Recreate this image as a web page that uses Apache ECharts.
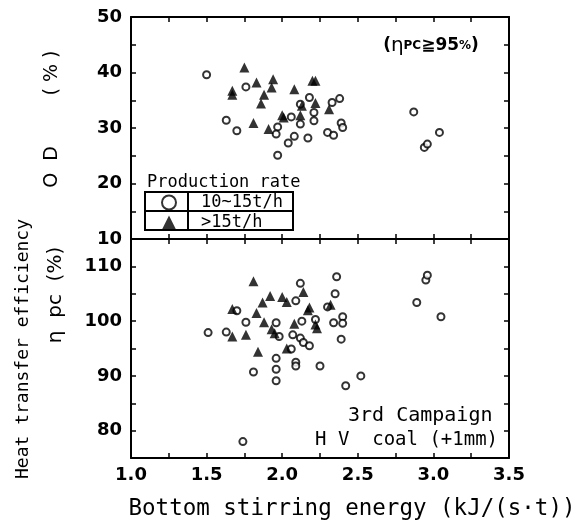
<!DOCTYPE html>
<html>
<head>
<meta charset="utf-8">
<script src="https://cdn.jsdelivr.net/npm/echarts@6/dist/echarts.min.js"></script>
<style>
	html, body { margin: 0; padding: 0; background: #fff; }
	#chart { width: 581px; height: 527px; }
</style>
</head>
<body>
<div id="chart"></div>
<script>
// OD (%) vs bottom stirring energy, 10~15 t/h
const odCircles = [
	[1.50, 39.6], [1.63, 31.4], [1.70, 29.5], [1.76, 37.4], [1.97, 30.2],
	[1.96, 28.9], [1.97, 25.1], [2.06, 32.0], [2.08, 28.5], [2.04, 27.3],
	[2.12, 30.7], [2.12, 34.3], [2.18, 35.5], [2.21, 32.8], [2.21, 31.3],
	[2.17, 28.2], [2.30, 29.2], [2.34, 28.7], [2.33, 34.6], [2.38, 35.3],
	[2.39, 30.9], [2.40, 30.1], [2.87, 32.9], [2.94, 26.5], [2.96, 27.1],
	[3.04, 29.2]
]
// OD (%), > 15 t/h
const odTriangles = [
	[1.75, 40.9], [1.83, 38.2], [1.67, 36.7], [1.67, 36.0], [1.94, 38.8],
	[1.93, 37.3], [1.88, 36.0], [1.86, 34.4], [2.08, 37.0], [1.81, 30.9],
	[1.91, 29.8], [2.00, 32.3], [2.01, 31.9], [2.12, 32.3], [2.20, 38.5],
	[2.22, 38.5], [2.22, 34.5], [2.31, 33.4], [2.13, 34.0]
]
// heat transfer efficiency (%), 10~15 t/h
const etaCircles = [
	[1.51, 97.9], [1.63, 98.0], [1.76, 99.8], [1.81, 90.7], [1.96, 99.7],
	[1.98, 97.2], [1.96, 93.2], [1.96, 91.2], [1.96, 89.1], [2.07, 97.5],
	[2.09, 103.7], [2.12, 106.9], [2.13, 100.0], [2.12, 96.9], [2.14, 96.1],
	[2.18, 95.5], [2.22, 100.3], [2.25, 91.8], [2.30, 102.6], [2.34, 99.7],
	[2.35, 105.0], [2.36, 108.1], [2.39, 96.7], [2.40, 100.8], [2.40, 99.6],
	[2.42, 88.2], [2.52, 90.0], [1.74, 78.0], [1.70, 101.9], [2.06, 94.9],
	[2.09, 92.5], [2.09, 91.8], [2.89, 103.4], [2.95, 107.5], [2.96, 108.4],
	[3.05, 100.8]
]
// heat transfer efficiency (%), > 15 t/h
const etaTriangles = [
	[1.81, 107.3], [1.92, 104.6], [1.87, 103.4], [2.00, 104.4], [2.03, 103.5],
	[2.14, 105.3], [2.18, 102.5], [2.17, 102.0], [1.67, 102.2], [1.83, 101.5],
	[1.88, 99.8], [1.76, 97.5], [1.67, 97.2], [1.93, 98.5], [2.08, 99.5],
	[2.23, 98.7], [2.03, 95.0], [1.84, 94.4], [2.32, 103.0], [1.95, 97.8],
	[2.22, 99.4]
]
const seriesNames = ['10~15t/h', '>15t/h']
const xRange = [1.0, 3.5]
const odRange = [10, 50]
const etaRange = [75, 115]

const black = '#000'
const sansFont = '"DejaVu Sans", sans-serif'
const monoFont = '"DejaVu Sans Mono", monospace'

const tickLabelStyle = {
	color: black,
	fontFamily: sansFont,
	fontWeight: 'bold',
	fontSize: 18,
}

// one frame side of a panel, ticks pointing inward
function makeXAxis(gridIndex, position, showLabel) {
	return {
		type: 'value',
		gridIndex,
		position,
		min: xRange[0],
		max: xRange[1],
		interval: 0.25,
		axisLine: { show: true, onZero: false, lineStyle: { color: black, width: 2 } },
		axisTick: { show: true, inside: true, length: 5, lineStyle: { color: black, width: 1.5 } },
		splitLine: { show: false },
		axisLabel: {
			show: showLabel,
			margin: 8,
			...tickLabelStyle,
			formatter: v => (Math.round(v * 100) % 50 === 0 ? v.toFixed(1) : ''),
		},
	}
}

function makeYAxis(gridIndex, position, range, showLabel) {
	return {
		type: 'value',
		gridIndex,
		position,
		min: range[0],
		max: range[1],
		interval: 5,
		axisLine: { show: true, onZero: false, lineStyle: { color: black, width: 2 } },
		axisTick: { show: true, inside: true, length: 5, lineStyle: { color: black, width: 1.5 } },
		splitLine: { show: false },
		axisLabel: {
			show: showLabel,
			margin: 9,
			...tickLabelStyle,
			formatter: v => (v % 10 === 0 ? String(v) : ''),
		},
	}
}

const circleStyle = { color: '#fff', borderColor: black, borderWidth: 2 }
const triangleStyle = { color: black }

function rotatedText(text, x, y, font, size) {
	return {
		type: 'text',
		x,
		y,
		rotation: Math.PI / 2,
		style: {
			text,
			fill: black,
			font: `${size}px ${font}`,
			align: 'center',
			verticalAlign: 'middle',
		},
	}
}

function plainText(text, x, y, font, size, align) {
	return {
		type: 'text',
		x,
		y,
		style: {
			text,
			fill: black,
			font: `${size}px ${font}`,
			align: align || 'left',
			verticalAlign: 'middle',
		},
	}
}

const chart = echarts.init(document.getElementById('chart'))
chart.setOption({
	animation: false,
	backgroundColor: '#fff',
	grid: [
		{ left: 131, top: 17, width: 378, height: 222 },
		{ left: 131, top: 239, width: 378, height: 219 },
	],
	xAxis: [
		makeXAxis(0, 'bottom', false),
		makeXAxis(0, 'top', false),
		makeXAxis(1, 'bottom', true),
		makeXAxis(1, 'top', false),
	],
	yAxis: [
		makeYAxis(0, 'left', odRange, true),
		makeYAxis(0, 'right', odRange, false),
		makeYAxis(1, 'left', etaRange, true),
		makeYAxis(1, 'right', etaRange, false),
	],
	legend: {
		data: seriesNames,
		orient: 'vertical',
		left: 161,
		top: 194,
		padding: 0,
		itemWidth: 14,
		itemHeight: 14,
		itemGap: 3,
		selectedMode: false,
		textStyle: {
			color: black,
			fontFamily: monoFont,
			fontSize: 17,
			padding: [0, 0, 0, 20],
		},
	},
	graphic: [
		// legend table frame
		{
			type: 'rect',
			shape: { x: 145, y: 192, width: 148, height: 38 },
			style: { fill: 'none', stroke: black, lineWidth: 2 },
		},
		{
			type: 'line',
			shape: { x1: 188, y1: 192, x2: 188, y2: 230 },
			style: { stroke: black, lineWidth: 2 },
		},
		{
			type: 'line',
			shape: { x1: 145, y1: 211, x2: 293, y2: 211 },
			style: { stroke: black, lineWidth: 2 },
		},
		plainText('Production rate', 147, 183, monoFont, 17),
		// axis titles
		rotatedText('( % )', 52, 73, sansFont, 19),
		rotatedText('O  D', 52, 167, sansFont, 19),
		rotatedText('Heat transfer efficiency', 23, 349, monoFont, 18),
		rotatedText('η  pc  (%)', 56, 295, sansFont, 20),
		plainText('Bottom stirring energy (kJ/(s·t))', 352, 509, monoFont, 22.5, 'center'),
		// notes
		{
			type: 'text',
			x: 431,
			y: 46,
			style: {
				text: '{p|(}{e|η}{s|PC}{p|≧95}{s|%}{p|)}',
				align: 'center',
				verticalAlign: 'middle',
				rich: {
					p: { fill: black, font: `bold 17px ${sansFont}` },
					e: { fill: black, font: `20px ${sansFont}` },
					s: { fill: black, font: `bold 12px ${sansFont}` },
				},
			},
		},
		plainText('3rd Campaign', 348, 416, monoFont, 20),
		plainText('H V  coal (+1mm)', 315, 440, monoFont, 19),
	],
	series: [
		{
			name: seriesNames[0],
			type: 'scatter',
			xAxisIndex: 0,
			yAxisIndex: 0,
			symbol: 'circle',
			symbolSize: 7,
			itemStyle: circleStyle,
			data: odCircles,
		},
		{
			name: seriesNames[1],
			type: 'scatter',
			xAxisIndex: 0,
			yAxisIndex: 0,
			symbol: 'triangle',
			symbolSize: 10,
			itemStyle: triangleStyle,
			data: odTriangles,
		},
		{
			name: seriesNames[0],
			type: 'scatter',
			xAxisIndex: 2,
			yAxisIndex: 2,
			symbol: 'circle',
			symbolSize: 7,
			itemStyle: circleStyle,
			data: etaCircles,
		},
		{
			name: seriesNames[1],
			type: 'scatter',
			xAxisIndex: 2,
			yAxisIndex: 2,
			symbol: 'triangle',
			symbolSize: 10,
			itemStyle: triangleStyle,
			data: etaTriangles,
		},
	],
})
</script>
</body>
</html>
